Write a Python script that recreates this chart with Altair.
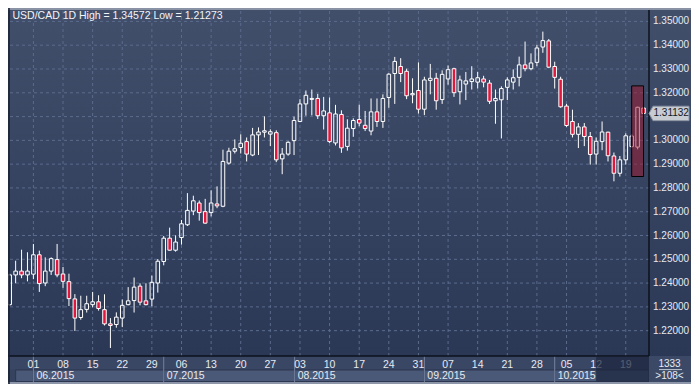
import altair as alt
import pandas as pd

# ---------------- data ----------------
title_text = "USD/CAD 1D High = 1.34572 Low = 1.21273"
first_day = "2015-05-26"
last_day = "2015-10-22"

opens = [1.23093, 1.24343, 1.24504, 1.24343, 1.24375, 1.25190, 1.24004, 1.24504, 1.24988, 1.24383,
         1.24061, 1.23335, 1.22553, 1.22895, 1.23093, 1.23214, 1.22883, 1.22286, 1.22258, 1.22528,
         1.23093, 1.23266, 1.23871, 1.23254, 1.23327, 1.24004, 1.24907, 1.25887, 1.25383, 1.25915,
         1.26452, 1.27028, 1.27367, 1.27004, 1.26964, 1.27327, 1.27230, 1.29044, 1.29544, 1.29698,
         1.29948, 1.29383, 1.30230, 1.30343, 1.30262, 1.30323, 1.29222, 1.29423, 1.29988, 1.30794,
         1.31532, 1.31722, 1.31762, 1.31036, 1.31157, 1.29891, 1.31089, 1.29746, 1.30496, 1.30875,
         1.30633, 1.30391, 1.31198, 1.30794, 1.31802, 1.32810, 1.33105, 1.32903, 1.31915, 1.32097,
         1.31310, 1.32520, 1.32609, 1.31714, 1.32581, 1.33012, 1.32044, 1.32367, 1.32472, 1.32448,
         1.32581, 1.32407, 1.31665, 1.31706, 1.32230, 1.32448, 1.32649, 1.33173, 1.33012, 1.33278,
         1.33923, 1.34181, 1.33105, 1.32569, 1.31440, 1.30794, 1.30254, 1.30565, 1.30161, 1.29423,
         1.29948, 1.30343, 1.29343, 1.28617, 1.29181, 1.29738, 1.29718, 1.31359]
highs = [1.24395, 1.24940, 1.25403, 1.25295, 1.25645, 1.25363, 1.25081, 1.25081, 1.25645, 1.24678,
         1.24395, 1.23536, 1.23468, 1.23468, 1.23629, 1.23488, 1.23528, 1.22528, 1.22770, 1.23307,
         1.23831, 1.24234, 1.23992, 1.23992, 1.24315, 1.25012, 1.25980, 1.26331, 1.26008, 1.26653,
         1.27782, 1.27674, 1.27472, 1.27540, 1.27903, 1.28065, 1.29609, 1.29690, 1.30040, 1.30254,
         1.30121, 1.30524, 1.30544, 1.31008, 1.30464, 1.30423, 1.29677, 1.29960, 1.30996, 1.31734,
         1.32097, 1.32137, 1.31956, 1.31827, 1.31802, 1.31492, 1.31262, 1.30887, 1.30927, 1.31504,
         1.31238, 1.31762, 1.31762, 1.31935, 1.32823, 1.33508, 1.33456, 1.33012, 1.32609, 1.33278,
         1.32673, 1.33214, 1.32835, 1.32944, 1.33145, 1.33052, 1.32722, 1.32875, 1.33117, 1.32875,
         1.32714, 1.32540, 1.32137, 1.32270, 1.32649, 1.32984, 1.33520, 1.34153, 1.33657, 1.34020,
         1.34572, 1.34262, 1.33307, 1.32673, 1.31532, 1.31290, 1.30726, 1.30726, 1.30351, 1.30121,
         1.30794, 1.30363, 1.29488, 1.29343, 1.30294, 1.30262, 1.31411, 1.31391]
lows = [1.23044, 1.23992, 1.24206, 1.24073, 1.24165, 1.23629, 1.23871, 1.24343, 1.24246, 1.23802,
        1.23036, 1.21988, 1.22460, 1.22762, 1.22984, 1.22843, 1.22218, 1.21273, 1.22125, 1.22149,
        1.23065, 1.22762, 1.23065, 1.23065, 1.23024, 1.23601, 1.24746, 1.25363, 1.25323, 1.25617,
        1.26399, 1.26855, 1.26625, 1.26492, 1.26802, 1.27149, 1.27190, 1.28980, 1.29448, 1.29448,
        1.29113, 1.29335, 1.29383, 1.30121, 1.29758, 1.29085, 1.28577, 1.29355, 1.29383, 1.30766,
        1.31036, 1.31048, 1.30899, 1.30456, 1.29891, 1.29786, 1.29476, 1.29569, 1.30149, 1.30593,
        1.30391, 1.30214, 1.30565, 1.30524, 1.31371, 1.31532, 1.32448, 1.31734, 1.31560, 1.31129,
        1.31060, 1.31935, 1.31290, 1.31532, 1.32339, 1.31827, 1.31512, 1.31694, 1.32137, 1.32178,
        1.32230, 1.31532, 1.30698, 1.30081, 1.31694, 1.32137, 1.32270, 1.32903, 1.32944, 1.33117,
        1.33681, 1.33036, 1.32178, 1.31371, 1.30565, 1.30121, 1.29677, 1.29758, 1.28980, 1.28980,
        1.29585, 1.29113, 1.28278, 1.28480, 1.28980, 1.29677, 1.29625, 1.31089]
closes = [1.24343, 1.24504, 1.24343, 1.24504, 1.25190, 1.23980, 1.24504, 1.25028, 1.24343, 1.24073,
          1.23347, 1.22528, 1.22883, 1.23133, 1.23214, 1.22931, 1.22286, 1.22218, 1.22568, 1.23065,
          1.23254, 1.23831, 1.23198, 1.23093, 1.24032, 1.24919, 1.25887, 1.25383, 1.25726, 1.26492,
          1.27056, 1.27460, 1.26964, 1.26520, 1.27367, 1.27246, 1.29113, 1.29544, 1.29649, 1.29879,
          1.29423, 1.30230, 1.30351, 1.30403, 1.30363, 1.29181, 1.29423, 1.29919, 1.30835, 1.31532,
          1.31895, 1.31762, 1.31036, 1.31238, 1.29948, 1.31109, 1.29685, 1.30512, 1.30835, 1.30726,
          1.30496, 1.31198, 1.30794, 1.31762, 1.32782, 1.33319, 1.32810, 1.31875, 1.31964, 1.31310,
          1.32540, 1.32609, 1.31665, 1.32774, 1.32972, 1.32004, 1.32540, 1.32500, 1.32581, 1.32633,
          1.32448, 1.31641, 1.31762, 1.32178, 1.32540, 1.32633, 1.33173, 1.33012, 1.33254, 1.33883,
          1.34194, 1.33077, 1.32649, 1.31411, 1.30625, 1.30254, 1.30565, 1.30161, 1.29407, 1.29960,
          1.30351, 1.29355, 1.28617, 1.29181, 1.30190, 1.30181, 1.31391, 1.31132]

price_ticks = [1.22, 1.23, 1.24, 1.25, 1.26, 1.27, 1.28, 1.29, 1.30, 1.31, 1.32, 1.33, 1.34, 1.35]
month_starts = ["2015-05-27", "2015-06-01", "2015-07-01", "2015-08-01", "2015-09-01", "2015-10-01"]
month_labels = ["", "06.2015", "07.2015", "08.2015", "09.2015", "10.2015"]
shade_from = "2015-10-12"
highlight_days = ["2015-10-20", "2015-10-22"]
highlight_prices = [1.2848, 1.3229]
last_price_text = "1.31132"
corner_texts = ["1333", ">108<"]

# ---------------- helpers ----------------
dates = pd.bdate_range(first_day, last_day)
n = len(dates)


def pos(d):
    d = pd.Timestamp(d)
    k = int(dates.searchsorted(d))
    if k < n and dates[k] == d:
        return float(k)
    return k - 1 + 0.1


FONT = "Liberation Sans Narrow, Liberation Sans, Arial, sans-serif"
FS = 10.5
FS_R = 10
W, H = 639, 345
TXT = "#e6eaf1"
X_MAX = 107.92

xs = alt.Scale(domain=[0.05, X_MAX], nice=False, zero=False)
ys = alt.Scale(domain=[1.20935, 1.35438], nice=False, zero=False)


def Y(field):
    return alt.Y(field, scale=ys, axis=None)


def X(field):
    return alt.X(field, scale=xs, axis=None)


df = pd.DataFrame({"i": list(range(n)), "o": opens, "h": highs, "l": lows, "c": closes})
df["top"] = df[["o", "c"]].max(axis=1)
df["bot"] = df[["o", "c"]].min(axis=1)
df["xl"] = df["i"] - 0.3
df["xr"] = df["i"] + 0.3
df["down"] = df["c"] < df["o"]

mondays = pd.DataFrame({"i": [k for k, d in enumerate(dates) if d.weekday() == 0],
                        "lab": [d.strftime("%d") for d in dates if d.weekday() == 0]})

mpos = [pos(m) for m in month_starts]
months = pd.DataFrame({"x": mpos, "x2": mpos[1:] + [X_MAX], "lab": month_labels})
seps = months.iloc[1:].reset_index(drop=True)

ticks_df = pd.DataFrame({"p": price_ticks, "lab": [f"{p:.5f}" for p in price_ticks]})
# the label hidden behind the last-price tag in the reference
label_df = ticks_df[(ticks_df["p"] - closes[-1]).abs() > 0.004]

one = pd.DataFrame({"z": [0]})
base = alt.Chart(one)

grad = alt.Gradient(gradient="linear",
                    stops=[alt.GradientStop(color="#424f6b", offset=0),
                           alt.GradientStop(color="#2a3856", offset=1)],
                    x1=0, x2=0, y1=0, y2=1)

bg = base.mark_rect(fill=grad).encode(
    x=alt.value(-2), x2=alt.value(681), y=alt.value(-3), y2=alt.value(H))

day_row = base.mark_rect(fill="#394765").encode(
    x=alt.value(-2), x2=alt.value(W), y=alt.value(H), y2=alt.value(358.6))
month_row = base.mark_rect(fill="#36435f").encode(
    x=alt.value(-2), x2=alt.value(W), y=alt.value(358.6), y2=alt.value(371))
bottom_strip = base.mark_rect(fill="#8c96a8").encode(
    x=alt.value(-2), x2=alt.value(681), y=alt.value(371), y2=alt.value(373))
corner = base.mark_rect(fill="#3b4967").encode(
    x=alt.value(W), x2=alt.value(681), y=alt.value(H), y2=alt.value(371))

month_boxes = alt.Chart(months).mark_rect(fill="#4a5977", stroke="#2c3650", strokeWidth=1).encode(
    x=X("x:Q"), x2="x2:Q", y=alt.value(359), y2=alt.value(370.5))
sep_lines = alt.Chart(seps).mark_rule(color="#7482a0", strokeWidth=1).encode(
    x=X("x:Q"), y=alt.value(H), y2=alt.value(371))

vgrid = alt.Chart(mondays).mark_rule(color="#5b6b8c", strokeDash=[3, 3], strokeWidth=1).encode(
    x=X("i:Q"), y=alt.value(0), y2=alt.value(H))
hgrid = alt.Chart(ticks_df).mark_rule(
    color="#5b6b8c", strokeDash=[3, 3], strokeWidth=1).encode(
    y=Y("p:Q"), x=alt.value(0), x2=alt.value(W))
tick_labels = alt.Chart(label_df).mark_text(
    font=FONT, fontSize=FS_R, color=TXT, align="left", baseline="middle").encode(
    y=Y("p:Q"), x=alt.value(643), text="lab:N")

wick_up = alt.Chart(df).mark_rule(color="white", strokeWidth=1).encode(
    x=X("i:Q"), y=Y("h:Q"), y2="top:Q")
wick_dn = alt.Chart(df).mark_rule(color="white", strokeWidth=1).encode(
    x=X("i:Q"), y=Y("bot:Q"), y2="l:Q")
bodies = alt.Chart(df).mark_rect(stroke="white", strokeWidth=1).encode(
    x=X("xl:Q"), x2="xr:Q", y=Y("o:Q"), y2="c:Q",
    fill=alt.condition("datum.down", alt.value("#e2173d"), alt.value("transparent")))

hl = alt.Chart(pd.DataFrame({"x": [pos(highlight_days[0])], "x2": [pos(highlight_days[1])],
                             "y": [highlight_prices[0]], "y2": [highlight_prices[1]]})).mark_rect(
    fill="#aa1428", fillOpacity=0.47, stroke="black", strokeWidth=1).encode(
    x=X("x:Q"), x2="x2:Q", y=Y("y:Q"), y2="y2:Q")

shade = alt.Chart(pd.DataFrame({"x": [pos(shade_from)], "x2": [X_MAX]})).mark_rect(
    fill="#1c263d", opacity=0.72).encode(
    x=X("x:Q"), x2="x2:Q", y=alt.value(H + 1), y2=alt.value(370.5))

day_text = alt.Chart(mondays).mark_text(font=FONT, fontSize=FS, color=TXT, baseline="middle").encode(
    x=X("i:Q"), y=alt.value(353.5), text="lab:N")
month_text = alt.Chart(months).mark_text(font=FONT, fontSize=FS, color=TXT, baseline="middle",
                                         align="left", dx=3).encode(
    x=X("x:Q"), y=alt.value(364.8), text="lab:N")

frame_v = base.mark_rule(color="#0d121c", strokeWidth=1.5).encode(
    x=alt.value(W), y=alt.value(-3), y2=alt.value(H))
frame_h = base.mark_rule(color="#0d121c", strokeWidth=1.5).encode(
    x=alt.value(-2), x2=alt.value(W), y=alt.value(H))
frame_top = base.mark_rule(color="#8a93a6", strokeWidth=2).encode(
    x=alt.value(-2), x2=alt.value(681), y=alt.value(-2))
frame_left = base.mark_rule(color="#1a2030", strokeWidth=1.5).encode(
    x=alt.value(-1), y=alt.value(-3), y2=alt.value(373))

last_df = pd.DataFrame({"p": [closes[-1]], "t": [last_price_text]})
tag = alt.Chart(last_df).mark_point(
    shape="M -1 0 L -0.8 -0.36 L 1 -0.36 L 1 0.36 L -0.8 0.36 Z", size=1600,
    filled=True, fill="#c7cbd2", stroke="#8d94a4", strokeWidth=1, opacity=1).encode(
    x=alt.value(659), y=Y("p:Q"))
tag_text = alt.Chart(last_df).mark_text(font=FONT, fontSize=FS_R, color="#141824", align="left",
                                        baseline="middle").encode(
    x=alt.value(643.5), y=Y("p:Q"), text="t:N")

title = alt.Chart(pd.DataFrame({"t": [title_text]})).mark_text(
    font=FONT, fontSize=FS, color="#f2f4f8", align="left", baseline="middle").encode(
    x=alt.value(2.5), y=alt.value(5.3), text="t:N")

corner_top = alt.Chart(pd.DataFrame({"t": [corner_texts[0]]})).mark_text(
    font=FONT, fontSize=FS_R, color=TXT, baseline="middle").encode(
    x=alt.value(659.5), y=alt.value(352.6), text="t:N")
corner_bot = alt.Chart(pd.DataFrame({"t": [corner_texts[1]]})).mark_text(
    font=FONT, fontSize=FS_R, color=TXT, baseline="middle").encode(
    x=alt.value(659.5), y=alt.value(364.8), text="t:N")
corner_line = base.mark_rule(color="#c0c6d2", strokeWidth=1).encode(
    x=alt.value(649), x2=alt.value(672), y=alt.value(358.6))

chart = alt.layer(
    bg, day_row, month_row, month_boxes, sep_lines, bottom_strip, corner,
    vgrid, hgrid, tick_labels, wick_up, wick_dn, bodies, hl, day_text, month_text, shade,
    frame_v, frame_h, frame_top, frame_left, tag, tag_text, title,
    corner_top, corner_bot, corner_line
).properties(
    width=W, height=H,
    padding={"left": 2, "top": 3, "right": 42, "bottom": 28},
    autosize=alt.AutoSizeParams(type="none"),
    background="#3a4866",
).configure_view(stroke=None)

chart.save("out.html", embed_options={"renderer": "svg", "actions": False})
